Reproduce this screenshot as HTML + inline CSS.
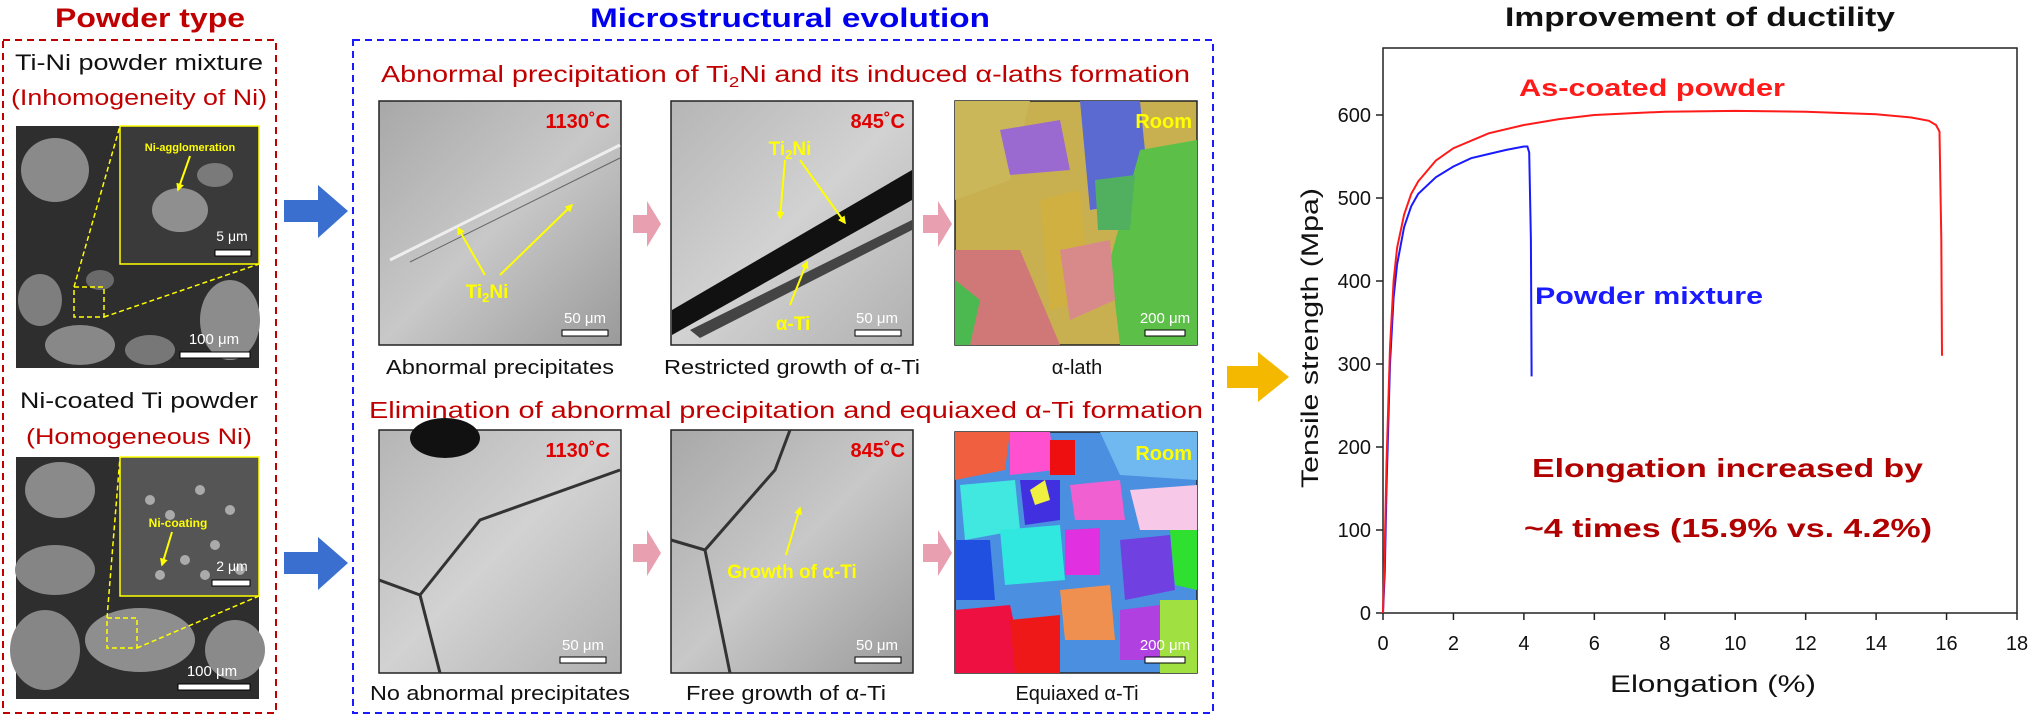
<!DOCTYPE html>
<html><head><meta charset="utf-8"><style>
html,body{margin:0;padding:0;background:#fff;}
svg{display:block;font-family:"Liberation Sans",Arial,sans-serif;}
</style></head><body>
<svg width="2029" height="716" viewBox="0 0 2029 716" xmlns="http://www.w3.org/2000/svg">
<defs>
<linearGradient id="gy" x1="0" y1="0" x2="1" y2="1"><stop offset="0" stop-color="#a8a8a8"/><stop offset="0.5" stop-color="#c8c8c8"/><stop offset="1" stop-color="#9a9a9a"/></linearGradient>
<linearGradient id="gy2" x1="0" y1="0" x2="1" y2="1"><stop offset="0" stop-color="#b5b5b5"/><stop offset="0.5" stop-color="#d2d2d2"/><stop offset="1" stop-color="#b0b0b0"/></linearGradient>
<marker id="ya" viewBox="0 0 10 10" refX="8" refY="5" markerWidth="4" markerHeight="4" orient="auto"><path d="M0,0L10,5L0,10z" fill="#ffff00"/></marker>
</defs>

<!-- Powder type column -->
<g>
<text x="150" y="27" text-anchor="middle" font-size="27" font-weight="bold" fill="#c00000" textLength="190" lengthAdjust="spacingAndGlyphs">Powder type</text>
<rect x="3" y="40" width="273" height="673" fill="none" stroke="#c00000" stroke-width="2" stroke-dasharray="7,5"/>
<text x="139" y="70" text-anchor="middle" font-size="22" fill="#111" textLength="248" lengthAdjust="spacingAndGlyphs">Ti-Ni powder mixture</text>
<text x="139" y="105" text-anchor="middle" font-size="22" fill="#c00000" textLength="256" lengthAdjust="spacingAndGlyphs">(Inhomogeneity of Ni)</text>
<g>
<rect x="16" y="126" width="243" height="242" fill="#2e2e2e"/>
<ellipse cx="55" cy="170" rx="34" ry="32" fill="#8a8a8a"/>
<ellipse cx="40" cy="300" rx="22" ry="26" fill="#7e7e7e"/>
<ellipse cx="80" cy="345" rx="35" ry="20" fill="#888"/>
<ellipse cx="230" cy="320" rx="30" ry="40" fill="#8c8c8c"/>
<ellipse cx="150" cy="350" rx="25" ry="15" fill="#777"/>
<ellipse cx="100" cy="280" rx="14" ry="10" fill="#6a6a6a"/>
<rect x="120" y="126" width="139" height="138" fill="#3a3a3a" stroke="#ffff00" stroke-width="1.5"/>
<ellipse cx="180" cy="210" rx="28" ry="22" fill="#8f8f8f"/>
<ellipse cx="215" cy="175" rx="18" ry="12" fill="#7a7a7a"/>
<text x="190" y="151" text-anchor="middle" font-size="11" font-weight="bold" fill="#ffff00">Ni-agglomeration</text>
<line x1="190" y1="156" x2="178" y2="190" stroke="#ffff00" stroke-width="2" marker-end="url(#ya)"/>
<text x="232" y="241" text-anchor="middle" font-size="14" fill="#fff">5 μm</text>
<rect x="215" y="250" width="36" height="6" fill="#fff" stroke="#000"/>
<rect x="74" y="287" width="30" height="30" fill="none" stroke="#ffff00" stroke-width="1.5" stroke-dasharray="5,3"/>
<line x1="74" y1="287" x2="120" y2="126" stroke="#ffff00" stroke-width="1.5" stroke-dasharray="5,3"/>
<line x1="104" y1="317" x2="259" y2="264" stroke="#ffff00" stroke-width="1.5" stroke-dasharray="5,3"/>
<text x="214" y="344" text-anchor="middle" font-size="15" fill="#fff">100 μm</text>
<rect x="180" y="352" width="70" height="6" fill="#fff" stroke="#000"/>
</g>
<text x="139" y="408" text-anchor="middle" font-size="22" fill="#111" textLength="238" lengthAdjust="spacingAndGlyphs">Ni-coated Ti powder</text>
<text x="139" y="444" text-anchor="middle" font-size="22" fill="#c00000" textLength="226" lengthAdjust="spacingAndGlyphs">(Homogeneous Ni)</text>
<g>
<rect x="16" y="457" width="243" height="242" fill="#2e2e2e"/>
<ellipse cx="60" cy="490" rx="35" ry="28" fill="#8a8a8a"/>
<ellipse cx="55" cy="570" rx="40" ry="25" fill="#858585"/>
<ellipse cx="45" cy="650" rx="35" ry="40" fill="#868686"/>
<ellipse cx="140" cy="640" rx="55" ry="32" fill="#8e8e8e"/>
<ellipse cx="235" cy="650" rx="30" ry="30" fill="#8a8a8a"/>
<rect x="120" y="457" width="139" height="139" fill="#555" stroke="#ffff00" stroke-width="1.5"/>
<circle cx="150" cy="500" r="5" fill="#aaa"/><circle cx="170" cy="515" r="5" fill="#aaa"/><circle cx="200" cy="490" r="5" fill="#aaa"/><circle cx="230" cy="510" r="5" fill="#aaa"/><circle cx="185" cy="560" r="5" fill="#aaa"/><circle cx="215" cy="545" r="5" fill="#aaa"/><circle cx="240" cy="570" r="5" fill="#aaa"/><circle cx="160" cy="575" r="5" fill="#aaa"/><circle cx="205" cy="575" r="5" fill="#aaa"/>
<text x="178" y="527" text-anchor="middle" font-size="12" font-weight="bold" fill="#ffff00">Ni-coating</text>
<line x1="172" y1="532" x2="162" y2="565" stroke="#ffff00" stroke-width="2" marker-end="url(#ya)"/>
<text x="232" y="571" text-anchor="middle" font-size="14" fill="#fff">2 μm</text>
<rect x="212" y="580" width="38" height="6" fill="#fff" stroke="#000"/>
<rect x="107" y="618" width="30" height="30" fill="none" stroke="#ffff00" stroke-width="1.5" stroke-dasharray="5,3"/>
<line x1="107" y1="618" x2="120" y2="457" stroke="#ffff00" stroke-width="1.5" stroke-dasharray="5,3"/>
<line x1="137" y1="648" x2="259" y2="596" stroke="#ffff00" stroke-width="1.5" stroke-dasharray="5,3"/>
<text x="212" y="676" text-anchor="middle" font-size="15" fill="#fff">100 μm</text>
<rect x="178" y="684" width="72" height="6" fill="#fff" stroke="#000"/>
</g>
</g>

<!-- blue arrows -->
<path d="M284,200 L318,200 L318,185 L348,211 L318,238 L318,222 L284,222Z" fill="#3a6fd0"/>
<path d="M284,552 L318,552 L318,537 L348,563 L318,590 L318,574 L284,574Z" fill="#3a6fd0"/>

<!-- Microstructural evolution -->
<g>
<text x="790" y="27" text-anchor="middle" font-size="27" font-weight="bold" fill="#0000ee" textLength="400" lengthAdjust="spacingAndGlyphs">Microstructural evolution</text>
<rect x="353" y="40" width="860" height="673" fill="none" stroke="#1a1aff" stroke-width="2" stroke-dasharray="7,5"/>
<text x="381" y="82" font-size="23" fill="#c00000" textLength="809" lengthAdjust="spacingAndGlyphs">Abnormal precipitation of Ti<tspan font-size="15" dy="5">2</tspan><tspan dy="-5">Ni and its induced α-laths formation</tspan></text>
<text x="369" y="418" font-size="23" fill="#c00000" textLength="834" lengthAdjust="spacingAndGlyphs">Elimination of abnormal precipitation and equiaxed α-Ti formation</text>

<!-- row 1 -->
<g>
<rect x="379" y="101" width="242" height="244" fill="url(#gy)" stroke="#222" stroke-width="1.5"/>
<line x1="390" y1="260" x2="620" y2="145" stroke="#eee" stroke-width="3"/>
<line x1="410" y1="262" x2="620" y2="158" stroke="#666" stroke-width="1"/>
<text x="610" y="128" text-anchor="end" font-size="20" font-weight="bold" fill="#e00000">1130˚C</text>
<line x1="485" y1="275" x2="458" y2="228" stroke="#ffff00" stroke-width="2" marker-end="url(#ya)"/>
<line x1="500" y1="275" x2="572" y2="205" stroke="#ffff00" stroke-width="2" marker-end="url(#ya)"/>
<text x="487" y="298" text-anchor="middle" font-size="19" font-weight="bold" fill="#ffff00">Ti<tspan font-size="13" dy="4">2</tspan><tspan dy="-4">Ni</tspan></text>
<text x="585" y="323" text-anchor="middle" font-size="15" fill="#fff">50 μm</text>
<rect x="562" y="330" width="46" height="6" fill="#fff" stroke="#000"/>
</g>
<path d="M633,215 L647,215 L647,201 L661,224 L647,247 L647,233 L633,233Z" fill="#e8a0b0"/>
<g>
<rect x="671" y="101" width="242" height="244" fill="url(#gy2)" stroke="#222" stroke-width="1.5"/>
<path d="M672,310 L912,170 L912,200 L672,335Z" fill="#111"/>
<path d="M690,330 L912,220 L912,230 L700,338Z" fill="#444"/>
<text x="905" y="128" text-anchor="end" font-size="20" font-weight="bold" fill="#e00000">845˚C</text>
<text x="790" y="155" text-anchor="middle" font-size="19" font-weight="bold" fill="#ffff00">Ti<tspan font-size="13" dy="4">2</tspan><tspan dy="-4">Ni</tspan></text>
<line x1="785" y1="160" x2="780" y2="218" stroke="#ffff00" stroke-width="2" marker-end="url(#ya)"/>
<line x1="800" y1="160" x2="845" y2="223" stroke="#ffff00" stroke-width="2" marker-end="url(#ya)"/>
<line x1="790" y1="305" x2="807" y2="262" stroke="#ffff00" stroke-width="2" marker-end="url(#ya)"/>
<text x="793" y="330" text-anchor="middle" font-size="19" font-weight="bold" fill="#ffff00">α-Ti</text>
<text x="877" y="323" text-anchor="middle" font-size="15" fill="#fff">50 μm</text>
<rect x="855" y="330" width="46" height="6" fill="#fff" stroke="#000"/>
</g>
<path d="M923,215 L938,215 L938,201 L952,224 L938,247 L938,233 L923,233Z" fill="#e8a0b0"/>
<g>
<rect x="955" y="101" width="242" height="244" fill="#c8b050" stroke="#222" stroke-width="1.5"/>
<path d="M955,101 L1030,101 L1010,180 L955,200Z" fill="#c9b75a"/>
<path d="M1080,101 L1140,101 L1150,200 L1090,210Z" fill="#5a6ad0"/>
<path d="M1140,150 L1197,140 L1197,345 L1120,345 L1110,260Z" fill="#5cc048"/>
<path d="M955,250 L1020,250 L1060,345 L955,345Z" fill="#d07878"/>
<path d="M955,280 L980,300 L970,345 L955,345Z" fill="#4cb850"/>
<path d="M1040,200 L1080,190 L1090,300 L1050,310Z" fill="#d0b040"/>
<path d="M1000,130 L1060,120 L1070,170 L1010,175Z" fill="#9a6ad0"/>
<path d="M1060,250 L1110,240 L1115,300 L1070,320Z" fill="#d88a8a"/>
<path d="M1095,180 L1135,175 L1130,230 L1098,230Z" fill="#50b060"/>
<text x="1192" y="128" text-anchor="end" font-size="20" font-weight="bold" fill="#ffff00">Room</text>
<text x="1165" y="323" text-anchor="middle" font-size="15" fill="#fff">200 μm</text>
<rect x="1145" y="330" width="40" height="6" fill="#fff" stroke="#000"/>
</g>
<text x="500" y="374" text-anchor="middle" font-size="20" fill="#111" textLength="228" lengthAdjust="spacingAndGlyphs">Abnormal precipitates</text>
<text x="792" y="374" text-anchor="middle" font-size="20" fill="#111" textLength="256" lengthAdjust="spacingAndGlyphs">Restricted growth of α-Ti</text>
<text x="1077" y="374" text-anchor="middle" font-size="20" fill="#111">α-lath</text>

<!-- row 2 -->
<g>
<rect x="379" y="430" width="242" height="243" fill="url(#gy2)" stroke="#222" stroke-width="1.5"/>
<ellipse cx="445" cy="438" rx="35" ry="20" fill="#111"/>
<path d="M379,580 L420,595 L480,520 L620,470" fill="none" stroke="#333" stroke-width="3"/>
<path d="M420,595 L440,673" fill="none" stroke="#333" stroke-width="3"/>
<text x="610" y="457" text-anchor="end" font-size="20" font-weight="bold" fill="#e00000">1130˚C</text>
<text x="583" y="650" text-anchor="middle" font-size="15" fill="#fff">50 μm</text>
<rect x="560" y="657" width="46" height="6" fill="#fff" stroke="#000"/>
</g>
<path d="M633,544 L647,544 L647,530 L661,553 L647,576 L647,562 L633,562Z" fill="#e8a0b0"/>
<g>
<rect x="671" y="430" width="242" height="243" fill="url(#gy)" stroke="#222" stroke-width="1.5"/>
<path d="M671,540 L705,550 L775,470 L790,430" fill="none" stroke="#333" stroke-width="3"/>
<path d="M705,550 L730,673" fill="none" stroke="#333" stroke-width="3"/>
<text x="905" y="457" text-anchor="end" font-size="20" font-weight="bold" fill="#e00000">845˚C</text>
<line x1="786" y1="555" x2="800" y2="508" stroke="#ffff00" stroke-width="2" marker-end="url(#ya)"/>
<text x="792" y="578" text-anchor="middle" font-size="19" font-weight="bold" fill="#ffff00">Growth of α-Ti</text>
<text x="877" y="650" text-anchor="middle" font-size="15" fill="#fff">50 μm</text>
<rect x="855" y="657" width="46" height="6" fill="#fff" stroke="#000"/>
</g>
<path d="M923,544 L938,544 L938,530 L952,553 L938,576 L938,562 L923,562Z" fill="#e8a0b0"/>
<g>
<rect x="955" y="432" width="242" height="241" fill="#4a8fe0" stroke="#222" stroke-width="1.5"/>
<path d="M955,432 L1010,432 L1005,470 L955,480Z" fill="#f06040"/>
<path d="M1010,432 L1050,432 L1055,470 L1010,475Z" fill="#ff50d0"/>
<path d="M1050,440 L1075,440 L1075,475 L1050,475Z" fill="#ee1010"/>
<path d="M1100,432 L1197,432 L1197,480 L1120,475Z" fill="#70b8f0"/>
<path d="M960,485 L1015,480 L1020,530 L965,540Z" fill="#40e8e0"/>
<path d="M1020,480 L1060,480 L1060,520 L1025,525Z" fill="#4030e0"/>
<path d="M1070,485 L1120,480 L1125,520 L1075,520Z" fill="#f060d0"/>
<path d="M1130,490 L1197,485 L1197,530 L1140,530Z" fill="#f8c8e8"/>
<path d="M1000,530 L1060,525 L1065,580 L1005,585Z" fill="#30e8e0"/>
<path d="M1065,530 L1100,528 L1100,575 L1065,575Z" fill="#e030e0"/>
<path d="M1120,540 L1170,535 L1175,590 L1125,600Z" fill="#7040e0"/>
<path d="M1170,530 L1197,530 L1197,590 L1175,585Z" fill="#30e030"/>
<path d="M955,540 L990,540 L995,600 L955,600Z" fill="#2050e0"/>
<path d="M1060,590 L1110,585 L1115,640 L1065,640Z" fill="#f09050"/>
<path d="M955,610 L1010,605 L1025,673 L955,673Z" fill="#ee1040"/>
<path d="M1010,620 L1060,615 L1060,673 L1015,673Z" fill="#ee1818"/>
<path d="M1120,610 L1160,605 L1160,660 L1120,660Z" fill="#b040e0"/>
<path d="M1160,600 L1197,600 L1197,673 L1160,673Z" fill="#a0e040"/>
<path d="M1030,490 L1045,480 L1050,500 L1035,505Z" fill="#f0f040"/>
<text x="1192" y="460" text-anchor="end" font-size="20" font-weight="bold" fill="#ffff00">Room</text>
<text x="1165" y="650" text-anchor="middle" font-size="15" fill="#fff">200 μm</text>
<rect x="1145" y="657" width="40" height="6" fill="#fff" stroke="#000"/>
</g>
<text x="500" y="700" text-anchor="middle" font-size="20" fill="#111" textLength="260" lengthAdjust="spacingAndGlyphs">No abnormal precipitates</text>
<text x="786" y="700" text-anchor="middle" font-size="20" fill="#111" textLength="200" lengthAdjust="spacingAndGlyphs">Free growth of α-Ti</text>
<text x="1077" y="700" text-anchor="middle" font-size="20" fill="#111">Equiaxed α-Ti</text>
</g>

<!-- orange arrow -->
<path d="M1227,366 L1258,366 L1258,352 L1289,377 L1258,402 L1258,388 L1227,388Z" fill="#f5b800"/>

<!-- Chart -->
<g id="chart">
<text x="1700" y="26" text-anchor="middle" font-size="27" font-weight="bold" fill="#111" textLength="390" lengthAdjust="spacingAndGlyphs">Improvement of ductility</text>
<rect x="1383" y="48" width="634" height="565" fill="none" stroke="#222" stroke-width="1.5"/>
<text transform="translate(1318,338) rotate(-90)" text-anchor="middle" font-size="24" fill="#111" textLength="300" lengthAdjust="spacingAndGlyphs">Tensile strength (Mpa)</text>
<text x="1713" y="692" text-anchor="middle" font-size="24" fill="#111" textLength="206" lengthAdjust="spacingAndGlyphs">Elongation (%)</text>
<g id="xt"></g><g id="yt"></g><g id="series"></g>
<text x="1519" y="96" font-size="24" font-weight="bold" fill="#ff1a1a" textLength="266" lengthAdjust="spacingAndGlyphs">As-coated powder</text>
<text x="1535" y="304" font-size="24" font-weight="bold" fill="#1a1aff" textLength="228" lengthAdjust="spacingAndGlyphs">Powder mixture</text>
<text x="1532" y="477" font-size="26" font-weight="bold" fill="#b00000" textLength="391" lengthAdjust="spacingAndGlyphs">Elongation increased by</text>
<text x="1524" y="537" font-size="26" font-weight="bold" fill="#b00000" textLength="408" lengthAdjust="spacingAndGlyphs">~4 times (15.9% vs. 4.2%)</text>
</g>
</svg>
<script>
const xTicks=[0,2,4,6,8,10,12,14,16,18];
const yTicks=[0,100,200,300,400,500,600];
const coatedStrain=[0,0.05,0.1,0.2,0.3,0.4,0.6,0.8,1,1.5,2,3,4,5,6,8,10,12,14,15,15.5,15.7,15.8,15.85,15.87];
const coatedStress=[0,80,180,320,400,440,480,505,520,545,560,578,588,595,600,604,605,604,601,597,593,588,580,450,310];
const mixStrain=[0,0.05,0.1,0.2,0.3,0.4,0.6,0.8,1,1.5,2,2.5,3,3.5,4,4.1,4.15,4.2,4.22];
const mixStress=[0,50,150,300,380,420,465,490,505,525,538,548,553,558,562,562,555,450,285];
const NS='http://www.w3.org/2000/svg';
const X0=1383,X1=2017,Y0=613,Y600=115;
function sx(v){return X0+v*(X1-X0)/18;}
function sy(v){return Y0-v*(Y0-Y600)/600;}
function mk(t,a){const e=document.createElementNS(NS,t);for(const k in a)e.setAttribute(k,a[k]);return e;}
const xt=document.getElementById('xt'),yt=document.getElementById('yt'),sr=document.getElementById('series');
xTicks.forEach(v=>{
 const l=mk('line',{x1:sx(v),x2:sx(v),y1:Y0,y2:Y0+7,stroke:'#222','stroke-width':1.5});
 
 
 xt.appendChild(l);
 const t=mk('text',{x:sx(v),y:650,'text-anchor':'middle','font-size':20,fill:'#111'});
 t.textContent=v;
 
 
 xt.appendChild(t);
});
yTicks.forEach(v=>{
 const l=mk('line',{x1:X0-7,x2:X0,y1:sy(v),y2:sy(v),stroke:'#222','stroke-width':1.5});
 
 
 yt.appendChild(l);
 const t=mk('text',{x:X0-12,y:sy(v)+7,'text-anchor':'end','font-size':20,fill:'#111'});
 t.textContent=v;
 
 
 yt.appendChild(t);
});
function line(xs,ys,c){return xs.map((x,i)=>(i?'L':'M')+sx(x).toFixed(1)+','+sy(ys[i]).toFixed(1)).join('');}
const pm=mk('path',{d:line(mixStrain,mixStress),fill:'none',stroke:'#1a1aff','stroke-width':2});


sr.appendChild(pm);
const pc=mk('path',{d:line(coatedStrain,coatedStress),fill:'none',stroke:'#ff1a1a','stroke-width':2});


sr.appendChild(pc);
</script>
</body></html>
